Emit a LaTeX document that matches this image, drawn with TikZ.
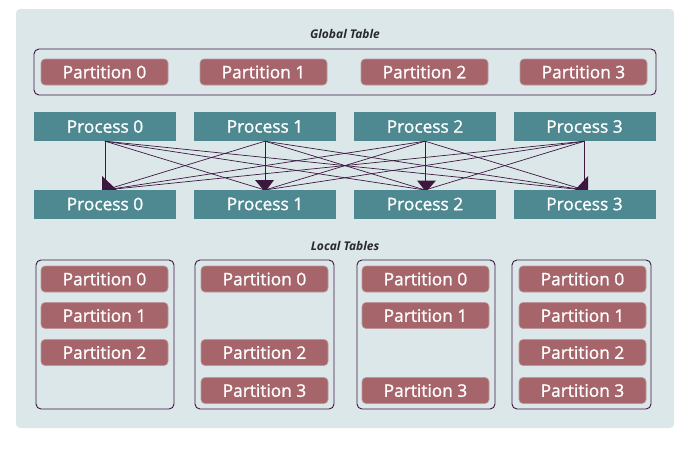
\documentclass[tikz,border=0pt]{standalone}
\usepackage{fontspec}
\setmainfont{Open Sans}
\newfontfamily\boxfont[FakeBold=1.2]{Open Sans}
\usetikzlibrary{arrows.meta}
\definecolor{panelbg}{RGB}{220,231,234}
\definecolor{partfill}{RGB}{165,101,106}
\definecolor{partedge}{RGB}{190,150,155}
\definecolor{procfill}{RGB}{78,137,145}
\definecolor{linec}{RGB}{60,24,62}
\definecolor{labelc}{RGB}{40,40,45}
\tikzset{
  partbox/.style={draw=partedge, line width=0.6pt, fill=partfill, rounded corners=4pt,
    minimum width=127pt, minimum height=26pt, inner sep=0pt, text=white,
    font=\boxfont\fontsize{17.3}{17.3}\selectfont},
  procbox/.style={fill=procfill, minimum width=142pt, minimum height=29pt, inner sep=0pt,
    text=white, font=\boxfont\fontsize{17.3}{17.3}\selectfont},
  tablebox/.style={draw=linec, line width=0.9pt, rounded corners=5pt},
  caption/.style={text=labelc, font=\fontsize{12}{12}\selectfont\itshape\bfseries},
  conn/.style={draw=linec, line width=0.7pt},
  headfill/.style={fill=linec},
}
\begin{document}
\begin{tikzpicture}[x=1pt,y=-1pt]
\useasboundingbox (0,0) rectangle (690,450);
\fill[panelbg, rounded corners=4pt] (16,9) rectangle (674,428);

% Global table
\node[caption] (gcap) at (345,34) {Global Table};
\draw[tablebox] (34,49) rectangle (656,95);
\node[partbox] (g0) at (104.5,72) {Partition 0};
\node[partbox] (g1) at (263.5,72) {Partition 1};
\node[partbox] (g2) at (424.5,72) {Partition 2};
\node[partbox] (g3) at (583.5,72) {Partition 3};

% processes
\foreach \i/\x in {0/105,1/265,2/425,3/584.5}{
  \node[procbox] (t\i) at (\x,126.5) {Process \i};
}
\foreach \i/\x in {0/105,1/265,2/425,3/584.5}{
  \coordinate (e\i) at (\x,190);
}
\foreach \a in {0,1,2,3}{
  \foreach \b in {0,1,2,3}{
    \draw[conn] (t\a.south) -- (e\b);
  }
}
% arrowheads (canvas shifts: positive yshift = up)
\fill[headfill] ([xshift=-3pt,yshift=14pt]e0) -- ([xshift=-3pt]e0) -- ([xshift=12pt]e0) -- cycle;
\fill[headfill] ([xshift=-10pt,yshift=10pt]e1) -- ([yshift=-2pt]e1) -- ([xshift=9pt,yshift=10pt]e1) -- cycle;
\fill[headfill] ([xshift=-8pt,yshift=9.5pt]e2) -- ([xshift=1pt,yshift=-2pt]e2) -- ([xshift=11pt,yshift=9.5pt]e2) -- cycle;
\fill[headfill] ([xshift=3.5pt,yshift=14pt]e3) -- ([xshift=3.5pt]e3) -- ([xshift=-9.5pt]e3) -- cycle;

\foreach \i/\x in {0/105,1/265,2/425,3/584.5}{
  \node[procbox] (b\i) at (\x,204) {Process \i};
}

% Local tables
\node[caption] (lcap) at (345,246) {Local Tables};
\draw[tablebox] (36,260) rectangle (174,409);
\draw[tablebox] (195,260) rectangle (334,409);
\draw[tablebox] (357,260) rectangle (495,409);
\draw[tablebox] (512,260) rectangle (651,409);

\node[partbox] (l00) at (104.5,279) {Partition 0};
\node[partbox] (l01) at (104.5,315.5) {Partition 1};
\node[partbox] (l02) at (104.5,352.5) {Partition 2};

\node[partbox] (l10) at (264.5,279) {Partition 0};
\node[partbox] (l12) at (264.5,352.5) {Partition 2};
\node[partbox] (l13) at (264.5,390.5) {Partition 3};

\node[partbox] (l20) at (425.5,279) {Partition 0};
\node[partbox] (l21) at (425.5,315.5) {Partition 1};
\node[partbox] (l23) at (425.5,390.5) {Partition 3};

\node[partbox] (l30) at (582.5,279) {Partition 0};
\node[partbox] (l31) at (582.5,315.5) {Partition 1};
\node[partbox] (l32) at (582.5,352.5) {Partition 2};
\node[partbox] (l33) at (582.5,390.5) {Partition 3};
\end{tikzpicture}
\end{document}
